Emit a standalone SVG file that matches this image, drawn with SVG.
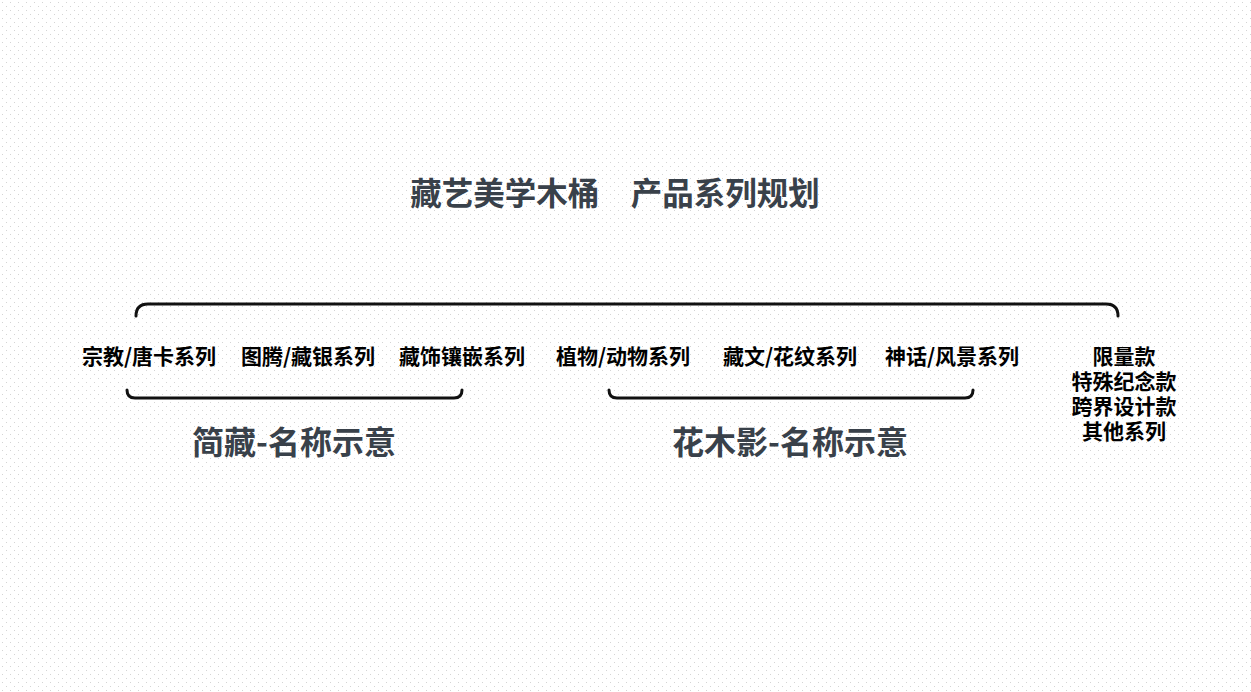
<svg xmlns="http://www.w3.org/2000/svg" width="1251" height="692" viewBox="0 0 1251 692">
<defs>
<pattern id="dots" width="8" height="8" patternUnits="userSpaceOnUse">
<rect x="2" y="2" width="1" height="1" fill="#d4d4d4"/>
<rect x="6" y="6" width="1" height="1" fill="#d4d4d4"/>
</pattern>
<style>
.t{font-family:"Noto Sans CJK SC","Noto Sans",sans-serif;font-weight:bold;}
.title{font-size:31.5px;fill:#39414a;}
.sub{font-size:32px;fill:#39414a;}
.lbl{font-size:21px;fill:#000;}
.stack{font-size:21px;fill:#000;}
.brace{fill:none;stroke:#111;stroke-width:3;stroke-linecap:round;}
</style>
</defs>
<rect width="1251" height="692" fill="#fff"/>
<rect width="1251" height="692" fill="url(#dots)"/>
<g id="title"><text class="t title" x="615" y="205" text-anchor="middle">藏艺美学木桶　产品系列规划</text></g>
<g id="connectors">
<path class="brace" d="M136,316 Q136,304 148,304 L1106,304 Q1118,304 1118,316"/>
<path class="brace" d="M127,390 Q127,398 135,398 L454,398 Q462,398 462,390"/>
<path class="brace" d="M609,390 Q609,398 617,398 L965,398 Q973,398 973,390"/>
</g>
<g id="n1"><text class="t lbl" x="149" y="364" text-anchor="middle">宗教/唐卡系列</text></g>
<g id="n2"><text class="t lbl" x="308" y="364" text-anchor="middle">图腾/藏银系列</text></g>
<g id="n3"><text class="t lbl" x="462" y="364" text-anchor="middle">藏饰镶嵌系列</text></g>
<g id="n4"><text class="t lbl" x="623" y="364" text-anchor="middle">植物/动物系列</text></g>
<g id="n5"><text class="t lbl" x="790" y="364" text-anchor="middle">藏文/花纹系列</text></g>
<g id="n6"><text class="t lbl" x="952" y="364" text-anchor="middle">神话/风景系列</text></g>
<g id="n7">
<text class="t stack" x="1124" text-anchor="middle"><tspan x="1124" y="364">限量款</tspan><tspan x="1124" y="389">特殊纪念款</tspan><tspan x="1124" y="414">跨界设计款</tspan><tspan x="1124" y="439">其他系列</tspan></text>
</g>
<g id="g1"><text class="t sub" x="294" y="454" text-anchor="middle">简藏-名称示意</text></g>
<g id="g2"><text class="t sub" x="790" y="454" text-anchor="middle">花木影-名称示意</text></g>
</svg>
